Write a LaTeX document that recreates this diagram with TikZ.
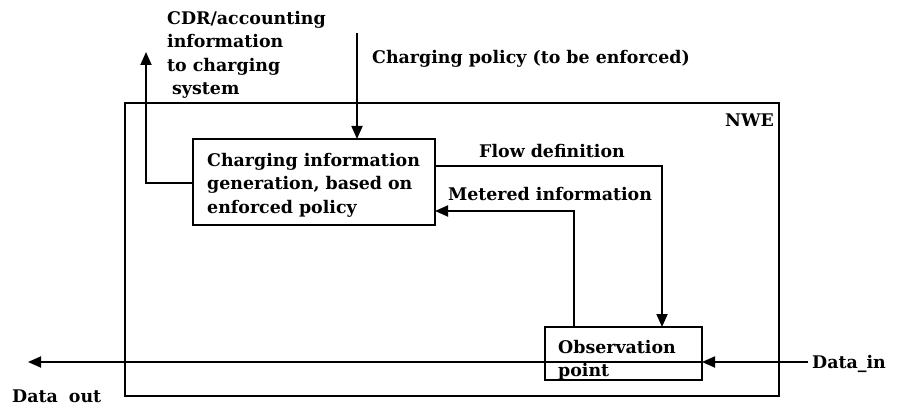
\documentclass[tikz,border=0pt]{standalone}
\usepackage{fontspec}
\setmainfont{DejaVu Serif}
\usetikzlibrary{arrows.meta}
\tikzset{
  lbl/.style={font=\bfseries\fontsize{17.4}{23.5}\selectfont, inner sep=0pt, align=left},
  boxst/.style={draw, line width=1.8pt},
  wire/.style={line width=1.8pt},
  arr/.style={wire, -{Triangle[length=13pt,width=11pt]}}
}
\begin{document}
\begin{tikzpicture}[x=1pt,y=-1pt]
\useasboundingbox[fill=white] (0,0) rectangle (904,406);
% NWE outer box
\draw[boxst] (125,103) rectangle (779,396);
\node[lbl, anchor=east] (nwe) at (774,120) {NWE};
% Charging information generation box
\coordinate (cbtl) at (193,139);
\coordinate (cbbr) at (435,225);
\draw[boxst] (cbtl) rectangle (cbbr);
\node[lbl, anchor=north west] (cig) at (207,153) {Charging information\\generation, based on\\enforced policy};
% Observation point box
\coordinate (obtl) at (545,327);
\coordinate (obbr) at (702,380);
\draw[boxst] (obtl) rectangle (obbr);
\node[lbl, anchor=north west] (obs) at (558,340) {Observation\\point};
% CDR output
\coordinate (cdrstart) at (193,183);
\coordinate (cdrtip) at (146,52);
\draw[arr] (cdrstart) -- (cdrtip |- cdrstart) -- (cdrtip);
\node[lbl, anchor=north west] (cdr) at (167,11) {CDR/accounting\\information\\to charging\\\hspace*{5pt}system};
% Charging policy input
\coordinate (polstart) at (357,33);
\coordinate (poltip) at (357,139);
\draw[arr] (polstart) -- (poltip);
\node[lbl, anchor=west] (pol) at (372,59) {Charging policy (to be enforced)};
% Flow definition
\coordinate (flowstart) at (435,166);
\coordinate (flowtip) at (662,327);
\draw[arr] (flowstart) -- (flowtip |- flowstart) -- (flowtip);
\node[lbl] (flow) at (552,151) {Flow definition};
% Metered information
\coordinate (metstart) at (574,327);
\coordinate (mettip) at (435,211);
\draw[arr] (metstart) -- (metstart |- mettip) -- (mettip);
\node[lbl] (met) at (550,194) {Metered information};
% Data in / out
\coordinate (dinstart) at (808,362);
\coordinate (dintip) at (702,362);
\coordinate (doutstart) at (702,362);
\coordinate (douttip) at (28,362);
\draw[arr] (dinstart) -- (dintip);
\draw[arr] (doutstart) -- (douttip);
\node[lbl, anchor=west] (din) at (812,364) {Data\_in};
\node[lbl, anchor=west] (dout) at (12,396) {Data\hspace{5pt} out};
\end{tikzpicture}
\end{document}
